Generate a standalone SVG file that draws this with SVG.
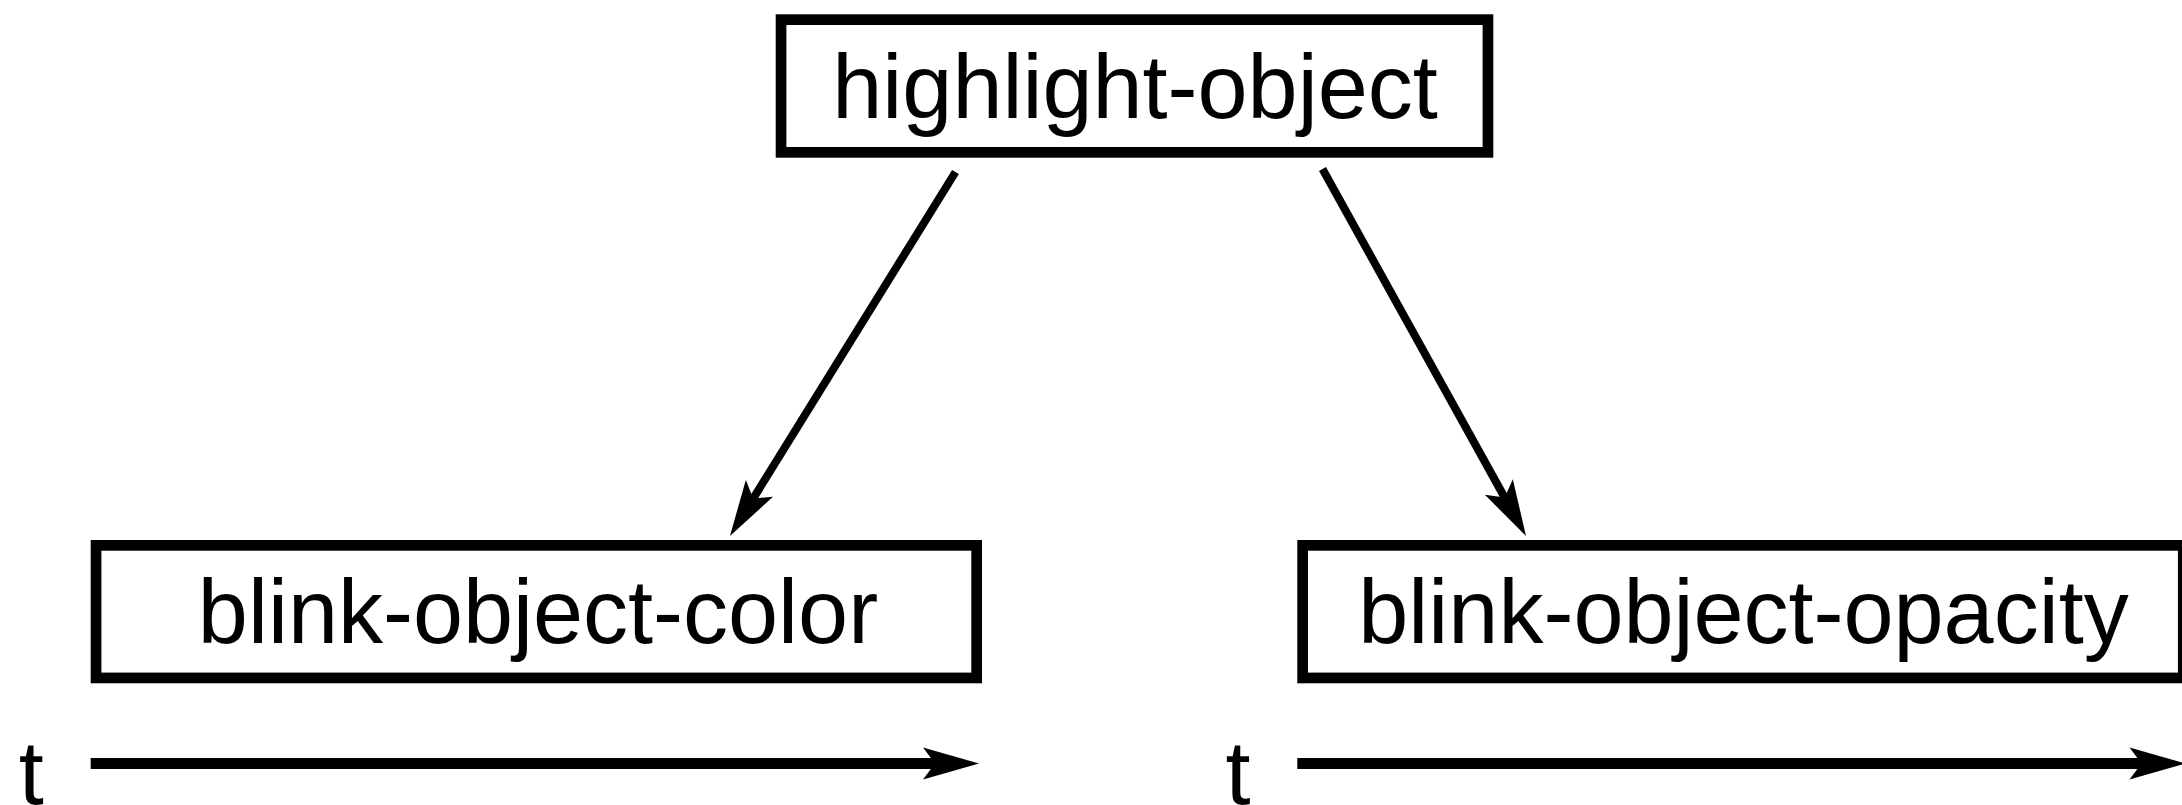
<svg xmlns="http://www.w3.org/2000/svg" width="2182" height="805" viewBox="0 0 2182 805">
  <style>
    .box { fill: #ffffff; stroke: #000000; stroke-width: 10.7; }
    .label { font-family: "Liberation Sans", Arial, Helvetica, sans-serif; font-size: 90px; fill: #000000; }
    .conn { stroke: #000000; stroke-width: 8; fill: none; marker-end: url(#arrow); }
    .axis { stroke: #000000; stroke-width: 11; fill: none; marker-end: url(#arrow); }
  </style>
  <defs>
    <marker id="arrow" markerUnits="userSpaceOnUse" viewBox="-60 -20 64 40" markerWidth="64" markerHeight="40" refX="-44" refY="0" orient="auto">
      <path d="M0,0 L-56,-16 L-44,0 L-56,16 Z" fill="#000000"/>
    </marker>
  </defs>
  <rect width="2182" height="805" fill="#ffffff"/>

  <g id="highlight-object">
    <rect class="box" x="781.05" y="19.65" width="706.9" height="132.7"/>
    <text class="label" x="1135" y="118.3" text-anchor="middle">highlight-object</text>
  </g>

  <g id="blink-object-color">
    <rect class="box" x="96.05" y="545.35" width="880.6" height="132.6"/>
    <text class="label" x="538" y="643.3" text-anchor="middle">blink-object-color</text>
  </g>

  <g id="blink-object-opacity">
    <rect class="box" x="1302.65" y="545.35" width="880.6" height="132.6"/>
    <text class="label" x="1743.5" y="643.3" text-anchor="middle">blink-object-opacity</text>
  </g>

  <g id="time-axis-left">
    <text class="label" x="18.7" y="804">t</text>
  </g>
  <g id="time-axis-right">
    <text class="label" x="1225.4" y="804">t</text>
  </g>

  <g id="connectors">
    <line class="conn" x1="955.5" y1="172" x2="753.13" y2="498.58"/>
    <line class="conn" x1="1322.5" y1="169" x2="1504.66" y2="497.51"/>
    <line class="axis" x1="90.7" y1="763.5" x2="935" y2="763.5"/>
    <line class="axis" x1="1297.3" y1="763.5" x2="2141.5" y2="763.5"/>
  </g>
</svg>
